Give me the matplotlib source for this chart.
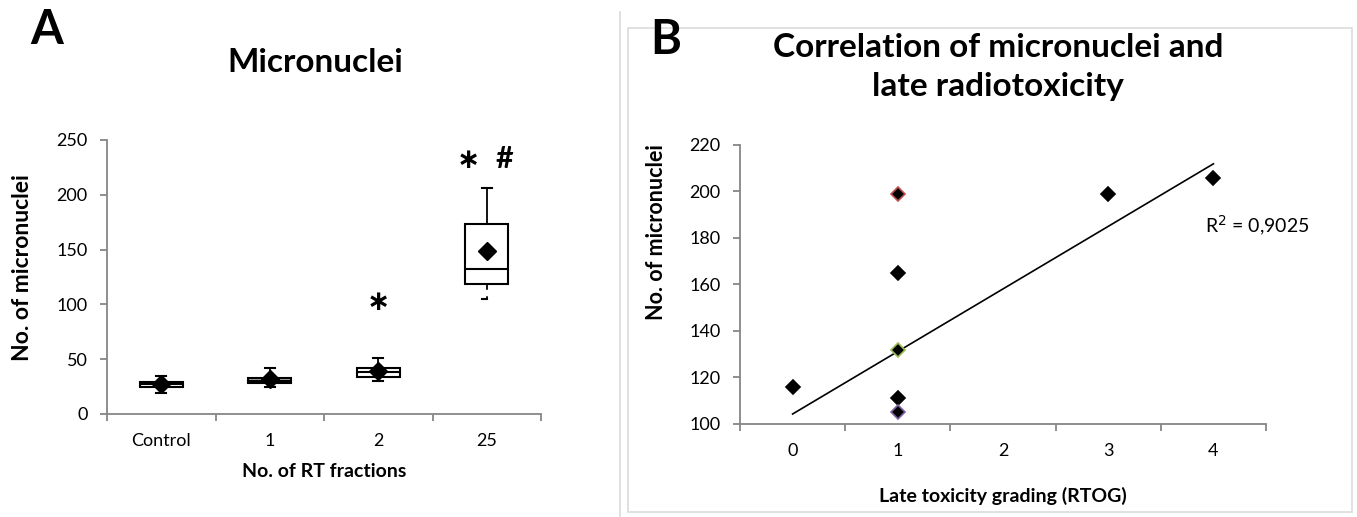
"""
Micronuclei after RT fractions (box plot) and their correlation with
late radiotoxicity (scatter with linear trend).
"""

import matplotlib
matplotlib.use("Agg")
import matplotlib.pyplot as plt
from matplotlib.patches import Rectangle
from matplotlib.lines import Line2D

plt.rcParams['font.family'] = ['Lato', 'DejaVu Sans']

# --- Panel A: micronuclei per number of RT fractions ---
fractions = ['Control', '1', '2', '25']
mn_q1 = [24.5, 28, 34, 118.5]
mn_median = [27, 30, 38, 132]
mn_q3 = [29.5, 32.5, 42, 173]
mn_low = [19.5, 25, 30, 105]
mn_high = [35, 42, 51, 206]
mn_mean = [27.5, 32, 39, 149]
# significance: * vs control, # vs 2 fractions
star_groups = [2, 3]
star_y = [102, 232]
hash_groups = [3]
hash_y = [233]

# --- Panel B: micronuclei vs late toxicity grade ---
rtog_grade = [0, 1, 1, 1, 1, 1, 3, 4]
mn_count = [116, 199, 165, 132, 111, 105, 199, 206]
point_edges = ['black', '#c0504d', 'black', '#9bbb59', 'black', '#8064a2', 'black', 'black']
trend_intercept = 104.3
trend_slope = 26.9
r_squared = '0,9025'

AXIS_GREY = '#868686'

fig = plt.figure(figsize=(13.57, 5.17), dpi=100)


def style_axes(ax):
    for side in ['top', 'right']:
        ax.spines[side].set_visible(False)
    for side in ['left', 'bottom']:
        ax.spines[side].set_color(AXIS_GREY)
        ax.spines[side].set_linewidth(1.3)
    ax.tick_params(axis='both', which='major', color=AXIS_GREY, length=5, width=1.3,
                   direction='out', labelsize=13)
    ax.tick_params(axis='y', which='major', pad=9)
    ax.tick_params(axis='x', which='major', labelbottom=False)
    ax.tick_params(axis='x', which='minor', length=0, labelsize=13, pad=14)


# Panel A
axA = fig.add_axes([107 / 1357, 103 / 517, 434 / 1357, 274 / 517])
stats = []
for i in range(len(fractions)):
    stats.append({'label': fractions[i], 'q1': mn_q1[i], 'med': mn_median[i],
                  'q3': mn_q3[i], 'whislo': mn_low[i], 'whishi': mn_high[i],
                  'mean': mn_mean[i]})
positions = list(range(len(fractions)))
bp = axA.bxp(stats, positions=positions, widths=0.4, showmeans=True,
             patch_artist=True, showfliers=False, manage_ticks=False,
             boxprops=dict(facecolor='white', edgecolor='black', linewidth=1.5),
             medianprops=dict(color='black', linewidth=1.5),
             whiskerprops=dict(color='black', linewidth=1.3),
             capprops=dict(color='black', linewidth=1.5),
             capwidths=0.09,
             meanprops=dict(marker='D', markerfacecolor='black',
                            markeredgecolor='black', markersize=9.5))
bp['boxes'][1].set_facecolor('#a6a6a6')
# lower whisker of the 25-fraction group is broken with a half cap
bp['whiskers'][6].set_linestyle((0, (3.2, 3.6)))
cx = positions[3]
bp['caps'][6].set_xdata([cx - 0.045, cx])
bp['caps'][6].set_zorder(3)

for g, y in zip(star_groups, star_y):
    dx = -0.17 if g in hash_groups else 0.0
    axA.text(positions[g] + dx, y, '\u2217', ha='center', va='center',
             fontsize=20, fontweight='bold', family='DejaVu Sans')
for g, y in zip(hash_groups, hash_y):
    axA.text(positions[g] + 0.16, y, '#', ha='center', va='center',
             fontsize=22, fontweight='bold')

axA.set_xlim(-0.5, 3.5)
axA.set_ylim(0, 250)
axA.set_yticks([0, 50, 100, 150, 200, 250])
axA.set_xticks([-0.5, 0.5, 1.5, 2.5, 3.5])
axA.set_xticks(positions, minor=True)
axA.set_xticklabels(fractions, minor=True)
style_axes(axA)
axA.set_xlabel('No. of RT fractions', fontsize=14, fontweight='bold', labelpad=10)
axA.set_ylabel('No. of micronuclei', fontsize=16.5, fontweight='bold')
axA.yaxis.set_label_coords(-0.17, 0.536)

fig.text(30 / 1357, 1 - 30 / 517, 'A', fontsize=34, fontweight='bold', va='center')
fig.text(315 / 1357, 1 - 62 / 517, 'Micronuclei', fontsize=24, fontweight='bold',
         ha='center', va='center')

# Panel B frame
fig.add_artist(Rectangle((628 / 1357, 5 / 517), 724 / 1357, 484 / 517,
                         transform=fig.transFigure, fill=False,
                         edgecolor='#dcdcdc', linewidth=1.2))
fig.add_artist(Line2D([620 / 1357, 620 / 1357], [0, 505 / 517],
                      transform=fig.transFigure, color='#dcdcdc', linewidth=1.2))

# Panel B
axB = fig.add_axes([740 / 1357, 93 / 517, 526 / 1357, 279 / 517])
x_line = [min(rtog_grade), max(rtog_grade)]
y_line = [trend_intercept + trend_slope * x for x in x_line]
axB.plot(x_line, y_line, color='black', linewidth=1.2, zorder=2)
for g, n, ec in zip(rtog_grade, mn_count, point_edges):
    axB.plot(g, n, marker='D', markersize=7.5, markerfacecolor='black',
             markeredgecolor=ec, markeredgewidth=1.2, linestyle='none', zorder=3)
axB.text(3.92, 185, 'R$^2$ = ' + r_squared, fontsize=14, ha='left', va='center')

axB.set_xlim(-0.5, 4.5)
axB.set_ylim(100, 220)
axB.set_yticks(range(100, 221, 20))
axB.set_xticks([-0.5, 0.5, 1.5, 2.5, 3.5, 4.5])
axB.set_xticks(range(0, 5), minor=True)
axB.set_xticklabels([str(k) for k in range(0, 5)], minor=True)
style_axes(axB)
axB.set_xlabel('Late toxicity grading (RTOG)', fontsize=14, fontweight='bold', labelpad=20)
axB.set_ylabel('No. of micronuclei', fontsize=15.5, fontweight='bold')
axB.yaxis.set_label_coords(-0.138, 0.688)

fig.text(650 / 1357, 1 - 40 / 517, 'B', fontsize=34, fontweight='bold', va='center')
fig.text(998 / 1357, 1 - 67 / 517, 'Correlation of micronuclei and\nlate radiotoxicity',
         fontsize=24, fontweight='bold', ha='center', va='center', linespacing=1.4)

fig.savefig('out.png', dpi=100)
